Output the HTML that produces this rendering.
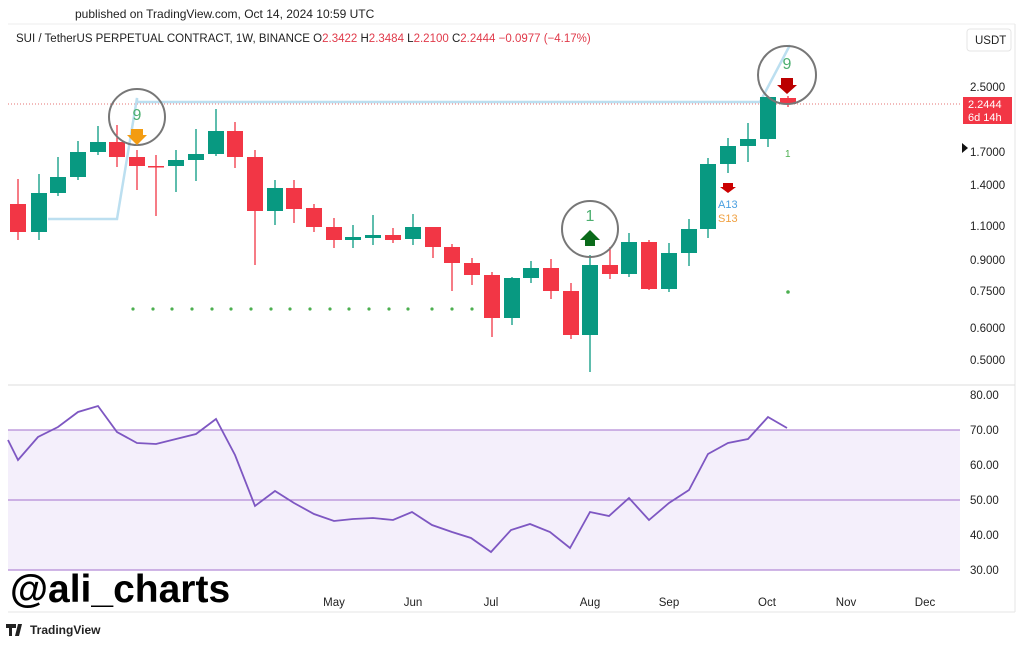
<!DOCTYPE html><html><head><meta charset="utf-8"><style>
body{margin:0;background:#fff;width:1024px;height:643px;overflow:hidden;font-family:"Liberation Sans",sans-serif}
</style></head><body>
<svg width="1024" height="643" xmlns="http://www.w3.org/2000/svg" font-family="Liberation Sans, sans-serif">
<rect width="1024" height="643" fill="#fff"/>
<text x="75" y="18" font-size="12" fill="#222">published on TradingView.com, Oct 14, 2024 10:59 UTC</text>
<line x1="8" y1="24" x2="1015" y2="24" stroke="#eee"/>
<line x1="1015" y1="24" x2="1015" y2="612" stroke="#e6e6e6"/>
<text x="16" y="42" font-size="11.5" fill="#222">SUI / TetherUS PERPETUAL CONTRACT, 1W, BINANCE  O<tspan fill="#e03a4a">2.3422</tspan>  H<tspan fill="#e03a4a">2.3484</tspan>  L<tspan fill="#e03a4a">2.2100</tspan>  C<tspan fill="#e03a4a">2.2444</tspan>  <tspan fill="#e03a4a">−0.0977 (−4.17%)</tspan></text>
<rect x="967" y="29" width="44" height="22" rx="3" fill="#fff" stroke="#e5e5e5"/>
<text x="975" y="44" font-size="11.5" fill="#222">USDT</text>
<!-- red dotted price line -->
<line x1="8" y1="104" x2="962" y2="104" stroke="#e57373" stroke-dasharray="1,2"/>
<!-- blue line -->
<polyline points="48,219 117,219 137,98 137,102 760,102 790,45" fill="none" stroke="#bcdff0" stroke-width="2.5"/>
<g id="c"></g>
<!-- dots -->
<g fill="#4caf50">
<circle cx="133" cy="309" r="1.6"/><circle cx="153" cy="309" r="1.6"/><circle cx="172" cy="309" r="1.6"/><circle cx="192" cy="309" r="1.6"/><circle cx="212" cy="309" r="1.6"/><circle cx="231" cy="309" r="1.6"/><circle cx="251" cy="309" r="1.6"/><circle cx="271" cy="309" r="1.6"/><circle cx="290" cy="309" r="1.6"/><circle cx="310" cy="309" r="1.6"/><circle cx="330" cy="309" r="1.6"/><circle cx="349" cy="309" r="1.6"/><circle cx="369" cy="309" r="1.6"/><circle cx="389" cy="309" r="1.6"/><circle cx="408" cy="309" r="1.6"/><circle cx="413" cy="309" r="0"/><circle cx="432" cy="309" r="1.6"/><circle cx="452" cy="309" r="1.6"/><circle cx="472" cy="309" r="1.6"/><circle cx="788" cy="292" r="1.8"/>
</g>
<text x="785" y="157" font-size="10" fill="#4caf50">1</text>
<text x="718" y="208" font-size="11" fill="#4a9fe0">A13</text>
<text x="718" y="222" font-size="11" fill="#f0a040">S13</text>
<polygon points="723,183 733,183 733,187 736,187 728,193 720,187 723,187" fill="#c00"/>
<!-- circles -->
<circle cx="137" cy="117" r="28" fill="none" stroke="#777" stroke-width="2"/>
<text x="137" y="120" font-size="16" fill="#4caf70" text-anchor="middle">9</text>
<polygon points="131,129 143,129 143,135 147,135 137,145 127,135 131,135" fill="#f39c12"/>
<circle cx="590" cy="229" r="28" fill="none" stroke="#777" stroke-width="2"/>
<text x="590" y="221" font-size="16" fill="#4caf70" text-anchor="middle">1</text>
<polygon points="590,230 600,240 595,240 595,246 585,246 585,240 580,240" fill="#0a6b1a"/>
<circle cx="787" cy="75" r="29" fill="none" stroke="#777" stroke-width="2"/>
<text x="787" y="69" font-size="16" fill="#4caf70" text-anchor="middle">9</text>
<polygon points="781,78 793,78 793,85 797,85 787,94 777,85 781,85" fill="#b00"/>
<!-- axis labels -->
<g font-size="11.5" fill="#222">
<text x="970" y="91">2.5000</text><text x="970" y="156">1.7000</text><text x="970" y="189">1.4000</text><text x="970" y="230">1.1000</text><text x="970" y="264">0.9000</text><text x="970" y="295">0.7500</text><text x="970" y="332">0.6000</text><text x="970" y="364">0.5000</text>
</g>
<polygon points="962,143 968,148 962,153" fill="#111"/>
<rect x="963" y="97" width="49" height="27" fill="#f23645"/>
<text x="968" y="108" font-size="11" fill="#fff">2.2444</text>
<text x="968" y="121" font-size="11" fill="#fff">6d 14h</text>
<line x1="8" y1="385" x2="1015" y2="385" stroke="#ddd"/>
<!-- RSI -->
<rect x="8" y="430" width="952" height="140" fill="#f4effb"/>
<g stroke="#b48bd6" stroke-width="1.3"><line x1="8" y1="430" x2="960" y2="430"/><line x1="8" y1="500" x2="960" y2="500"/><line x1="8" y1="570" x2="960" y2="570"/></g>
<polyline fill="none" stroke="#7e57c2" stroke-width="1.8" points="8,440 18,460 38,437 58,427 78,412 98,406 117,432 137,443 156,444 176,439 196,434 216,419 235,455 255,506 275,491 294,503 314,514 334,521 353,519 373,518 393,520 412,512 432,525 452,532 471,538 491,552 511,530 530,524 550,532 570,548 590,512 609,516 629,498 649,520 669,503 689,490 708,454 728,443 748,439 768,417 787,428"/>
<g font-size="11.5" fill="#222"><text x="970" y="399">80.00</text><text x="970" y="434">70.00</text><text x="970" y="469">60.00</text><text x="970" y="504">50.00</text><text x="970" y="539">40.00</text><text x="970" y="574">30.00</text></g>
<line x1="8" y1="612" x2="1015" y2="612" stroke="#e6e6e6"/>
<g font-size="11.5" fill="#222" text-anchor="middle"><text x="334" y="606">May</text><text x="413" y="606">Jun</text><text x="491" y="606">Jul</text><text x="590" y="606">Aug</text><text x="669" y="606">Sep</text><text x="767" y="606">Oct</text><text x="846" y="606">Nov</text><text x="925" y="606">Dec</text></g>
<text x="10" y="602" font-size="39" font-weight="bold" fill="#000">@ali_charts</text>
<text x="30" y="634" font-size="12" font-weight="bold" fill="#222">TradingView</text>
<path d="M6,624 h10 v4 h-4 v8 h-3 v-8 h-3z M18,624 l4,0 l-3,12 h-4z" fill="#222"/>
</svg>
<script>
var d=[[18,204,232,179,240,0],[39,193,232,174,240,1],[58,177,193,157,196,1],[78,152,177,141,180,1],[98,142,152,126,155,1],[117,142,157,125,167,0],[137,157,166,150,190,0],[156,166,167,155,216,0],[176,160,166,150,192,1],[196,154,160,129,181,1],[216,131,154,109,156,1],[235,131,157,122,168,0],[255,157,211,150,265,0],[275,188,211,180,225,1],[294,188,209,180,223,0],[314,208,227,204,232,0],[334,227,240,218,248,0],[353,237,240,225,248,1],[373,235,238,215,245,1],[393,235,240,228,243,0],[413,227,239,214,245,1],[433,227,247,227,258,0],[452,247,263,244,291,0],[472,263,275,258,285,0],[492,275,318,272,337,0],[512,278,318,277,325,1],[531,268,278,261,283,1],[551,268,291,259,299,0],[571,291,335,283,339,0],[590,265,335,255,372,1],[610,265,274,247,279,0],[629,242,274,233,277,1],[649,242,289,240,290,0],[669,253,289,243,292,1],[689,229,253,219,266,1],[708,164,229,158,238,1],[728,146,164,138,173,1],[748,139,146,123,162,1],[768,97,139,97,147,1],[788,98,104,96,107,0]];
var s='';d.forEach(function(c){var col=c[5]?'#089981':'#f23645';s+='<line x1="'+c[0]+'" x2="'+c[0]+'" y1="'+c[3]+'" y2="'+c[4]+'" stroke="'+col+'" stroke-width="1.3"/><rect x="'+(c[0]-8)+'" y="'+c[1]+'" width="16" height="'+Math.max(1.5,c[2]-c[1])+'" fill="'+col+'"/>';});
document.getElementById('c').innerHTML=s;
</script>
</body></html>
